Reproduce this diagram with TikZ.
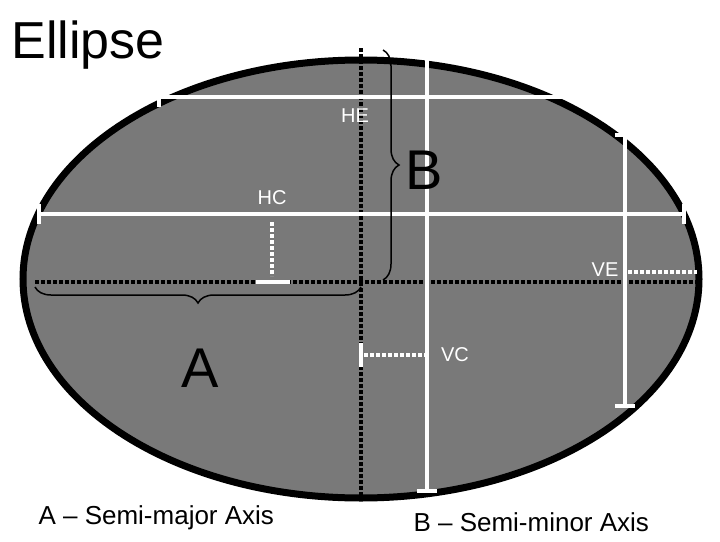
\documentclass[tikz,border=0pt]{standalone}
\usepackage{fontspec}
\setmainfont{Liberation Sans}
\usetikzlibrary{decorations.pathreplacing}
\usetikzlibrary{positioning}

\begin{document}
\begin{tikzpicture}[
		x=1pt,
		y=-1pt
		]
		\tikzstyle{measure}=[
			white,
			line width=4pt,
			|-|
		]
		\tikzstyle{gap}=[
			white,
			line width=4pt,
			dotted
		]
		\tikzstyle{axis}=[
			black,
			line width=4pt,
			dotted
		]
		\tikzstyle{tag}=[
			text=white,
			font=\fontsize{20}{20}\selectfont,
			inner sep=1pt
		]
		\tikzstyle{bracket}=[
			black,
			line width=1.5pt,
			decorate,
			decoration={brace,amplitude=16pt}
		]
		\useasboundingbox (0,0) rectangle (720,541);
		% Draw the ellipse.
			\filldraw[fill=gray!95!black, draw=black, line width=7pt] (361,279) ellipse (338 and 219);
		% Draw the axes.
			\coordinate (L) at (35,282);
			\coordinate (R) at (697,282);
			\coordinate (T) at (361,48);
			\coordinate (D) at (361,496);
			\draw[axis] (L) -- (R);
			\draw[axis] (T) -- (D);
		% Draw the measurement lines.
			\draw[measure] (157,97) coordinate (HE1) -- (597,97) coordinate (HE2);
			\draw[measure] (37,214) coordinate (HC1) -- (686,214) coordinate (HC2);
			\draw[measure] (427,54) coordinate (V1) -- (427,493) coordinate (V2);
			\draw[measure] (625,133) coordinate (VE1) -- (625,408) coordinate (VE2);
			\draw[gap] (272,222) coordinate (G1) -- (272,276) coordinate (G2);
			\draw[white, line width=4pt] (256,282) -- (290,282) (258,214) -- (286,214);
			\draw[gap] (628,272) coordinate (G3) -- (697,272) coordinate (G4);
			\draw[gap] (364,355) coordinate (G5) -- (427,355) coordinate (G6);
			\draw[white, line width=4pt] (361,343) -- (361,367) (427,343) -- (427,367);
		% Draw the labels.
			\node[tag] (HE) at (355,116) {HE};
			\node[tag] (HC) at (272,198) {HC};
			\node[tag] (VC) at (455,355) {VC};
			\node[tag] (VE) at (605,270) {VE};
		% Draw the braces.
			\draw[bracket] (361,287) -- (35,287);
			\draw[bracket] (383,50) -- (383,280);
			\node[font=\fontsize{56}{56}\selectfont] (A) at (200,368) {A};
			\node[font=\fontsize{56}{56}\selectfont] (B) at (424,170) {B};
			\node[font=\fontsize{52}{52}\selectfont, anchor=west] (title) at (8,45) {Ellipse};
			\node[font=\fontsize{26}{26}\selectfont, anchor=west] (capA) at (35,518) {A -- Semi-major Axis};
			\node[font=\fontsize{26}{26}\selectfont, anchor=west] (capB) at (410,522) {B -- Semi-minor Axis};
	\end{tikzpicture}
\end{document}
